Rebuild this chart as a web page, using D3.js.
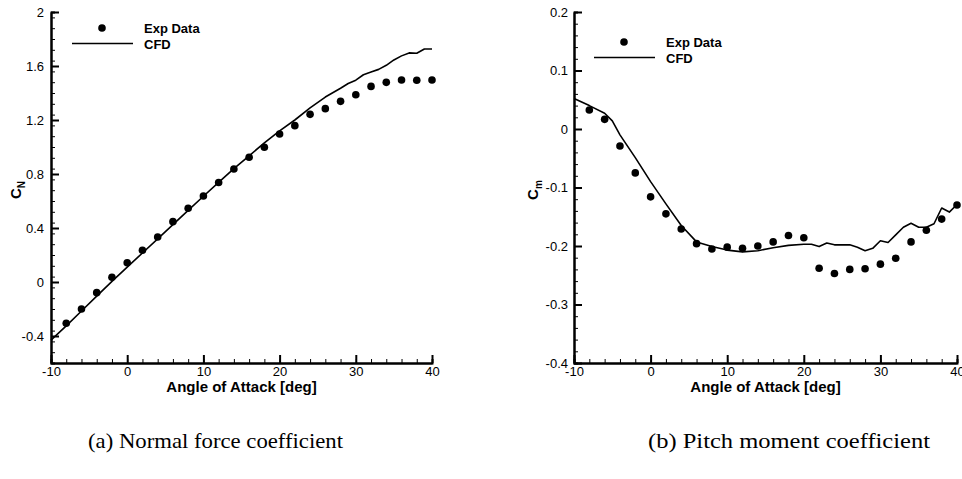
<!DOCTYPE html>
<html>
<head>
<meta charset="utf-8">
<script src="https://cdn.jsdelivr.net/npm/d3@7"></script>
<style>
body { margin: 0; background: #fff; }
svg { display: block; }
.tick text { font-family: "Liberation Sans", Arial, sans-serif; font-size: 13px; fill: #000; }
.title { font-family: "Liberation Sans", Arial, sans-serif; font-weight: bold; fill: #000; }
.caption { font-family: "Liberation Serif", "DejaVu Serif", serif; font-size: 22px; fill: #000; }
</style>
</head>
<body>
<svg width="962" height="479"></svg>
<script>
// experimental points (every 2 deg)
const alphaExp = [-8,-6,-4,-2,0,2,4,6,8,10,12,14,16,18,20,22,24,26,28,30,32,34,36,38,40]
const cnExp = [-0.306,-0.20,-0.079,0.035,0.143,0.235,0.333,0.447,0.546,0.637,0.737,0.837,0.924,0.998,1.096,1.158,1.242,1.284,1.338,1.387,1.449,1.479,1.496,1.494,1.496]
const cmExp = [0.0325,0.0165,-0.029,-0.075,-0.116,-0.145,-0.171,-0.196,-0.205,-0.202,-0.204,-0.200,-0.193,-0.182,-0.186,-0.238,-0.247,-0.240,-0.239,-0.231,-0.221,-0.193,-0.173,-0.154,-0.130]

// CFD curves
const alphaCfdN = [-10,-8,-6,-4,-2,0,2,4,6,8,10,12,14,16,18,20,22,24,26,28,29,30,31,32,33,34,35,36,37,38,39,40]
const cnCfd = [-0.43,-0.325,-0.215,-0.105,0.005,0.11,0.215,0.32,0.425,0.53,0.635,0.738,0.84,0.935,1.03,1.12,1.20,1.29,1.37,1.435,1.47,1.495,1.535,1.555,1.575,1.605,1.645,1.675,1.697,1.694,1.726,1.726]

const alphaCfdM = [-10,-8,-6,-5,-4,-2,0,2,4,6,8,10,12,14,16,18,20,21,22,23,24,26,27,28,29,30,31,32,33,34,35,36,37,38,39,40]
const cmCfd = [0.052,0.040,0.027,0.014,-0.010,-0.049,-0.090,-0.128,-0.165,-0.193,-0.201,-0.207,-0.210,-0.208,-0.203,-0.199,-0.197,-0.197,-0.201,-0.195,-0.198,-0.198,-0.202,-0.208,-0.204,-0.191,-0.194,-0.181,-0.168,-0.161,-0.168,-0.168,-0.162,-0.135,-0.142,-0.129]

const xTicks = [-10,0,10,20,30,40]
const cnTicks = [-0.4,0,0.4,0.8,1.2,1.6,2]
const cmTicks = [-0.4,-0.3,-0.2,-0.1,0,0.1,0.2]

const legendNames = ["Exp Data","CFD"]
const captions = ["(a) Normal force coefficient","(b) Pitch moment coefficient"]

const svg = d3.select("svg")

// plain hyphen for negatives, like the original
const fmt = d => String(+(+d).toFixed(2))

function drawPanel(p) {
	const x = d3.scaleLinear().domain([-10,40]).range([p.left, p.right])
	const y = d3.scaleLinear().domain(p.yDomain).range([p.bottom, p.top])
	const g = svg.append("g")

	// minor ticks
	g.append("g")
		.attr("transform", `translate(0,${p.bottom})`)
		.call(d3.axisBottom(x).tickValues(d3.range(-10, 40.01, 2)).tickSize(-4).tickFormat(""))
	g.append("g")
		.attr("transform", `translate(${p.left},0)`)
		.call(d3.axisLeft(y).tickValues(d3.range(p.yDomain[0], p.yDomain[1] + p.minor/2, p.minor)).tickSize(-4).tickFormat(""))

	// major ticks
	g.append("g")
		.attr("class", "major")
		.attr("transform", `translate(0,${p.bottom})`)
		.call(d3.axisBottom(x).tickValues(xTicks).tickSizeInner(-8).tickSizeOuter(0).tickPadding(4).tickFormat(fmt))
	g.append("g")
		.attr("class", "major")
		.attr("transform", `translate(${p.left},0)`)
		.call(d3.axisLeft(y).tickValues(p.yTicks).tickSizeInner(-8).tickSizeOuter(0).tickPadding(p.ypad).tickFormat(fmt))

	g.selectAll(".domain").attr("stroke", "#000").attr("stroke-width", 2)
	g.selectAll(".tick line").attr("stroke", "#000").attr("stroke-width", 1)
	g.selectAll(".major .tick line").attr("stroke-width", 2)

	// CFD line
	const line = d3.line()
		.x((d,i) => x(p.cfdX[i]))
		.y(d => y(d))
	g.append("path")
		.datum(p.cfdY)
		.attr("d", line)
		.attr("fill", "none")
		.attr("stroke", "#000")
		.attr("stroke-width", 1.6)
		.attr("stroke-linejoin", "round")

	// experimental points
	g.selectAll("circle.exp")
		.data(p.expY)
		.enter()
		.append("circle")
		.attr("class", "exp")
		.attr("cx", (d,i) => x(alphaExp[i]))
		.attr("cy", d => y(d))
		.attr("r", 3.8)
		.attr("fill", "#000")

	// axis titles
	g.append("text")
		.attr("class", "title")
		.attr("x", (p.left + p.right) / 2)
		.attr("y", 392)
		.attr("text-anchor", "middle")
		.style("font-size", "15px")
		.text("Angle of Attack [deg]")

	const yt = g.append("text")
		.attr("class", "title")
		.attr("transform", `translate(${p.ytX},${p.ytY}) rotate(-90)`)
		.attr("text-anchor", "middle")
		.style("font-size", "15px")
	yt.append("tspan").text("C")
	yt.append("tspan").attr("dy", 4).style("font-size", "10px").text(p.sub)

	// legend
	g.append("circle")
		.attr("cx", p.legX + 30)
		.attr("cy", p.legY)
		.attr("r", 3.8)
		.attr("fill", "#000")
	g.append("line")
		.attr("x1", p.legX)
		.attr("x2", p.legX + 61)
		.attr("y1", p.legY + 15.5)
		.attr("y2", p.legY + 15.5)
		.attr("stroke", "#000")
		.attr("stroke-width", 1.6)
	g.selectAll("text.leg")
		.data(legendNames)
		.enter()
		.append("text")
		.attr("class", "title leg")
		.attr("x", p.legX + 72)
		.attr("y", (d,i) => p.legY + 4.5 + i * 16)
		.style("font-size", "13px")
		.text(d => d)

	// caption
	g.append("text")
		.attr("class", "caption")
		.attr("x", p.capX)
		.attr("y", 448)
		.attr("textLength", p.capW)
		.attr("lengthAdjust", "spacingAndGlyphs")
		.text(p.caption)
}

drawPanel({
	left: 51, right: 432, top: 12, bottom: 363,
	yDomain: [-0.6, 2], minor: 0.08, yTicks: cnTicks, ypad: 7,
	cfdX: alphaCfdN, cfdY: cnCfd, expY: cnExp,
	ytX: 21, ytY: 190, sub: "N",
	legX: 72, legY: 28,
	capX: 88, capW: 255, caption: captions[0]
})

drawPanel({
	left: 574, right: 957, top: 12, bottom: 363,
	yDomain: [-0.4, 0.2], minor: 0.02, yTicks: cmTicks, ypad: 6,
	cfdX: alphaCfdM, cfdY: cmCfd, expY: cmExp,
	ytX: 538, ytY: 190, sub: "m",
	legX: 594, legY: 42,
	capX: 648, capW: 282, caption: captions[1]
})
</script>
</body>
</html>
